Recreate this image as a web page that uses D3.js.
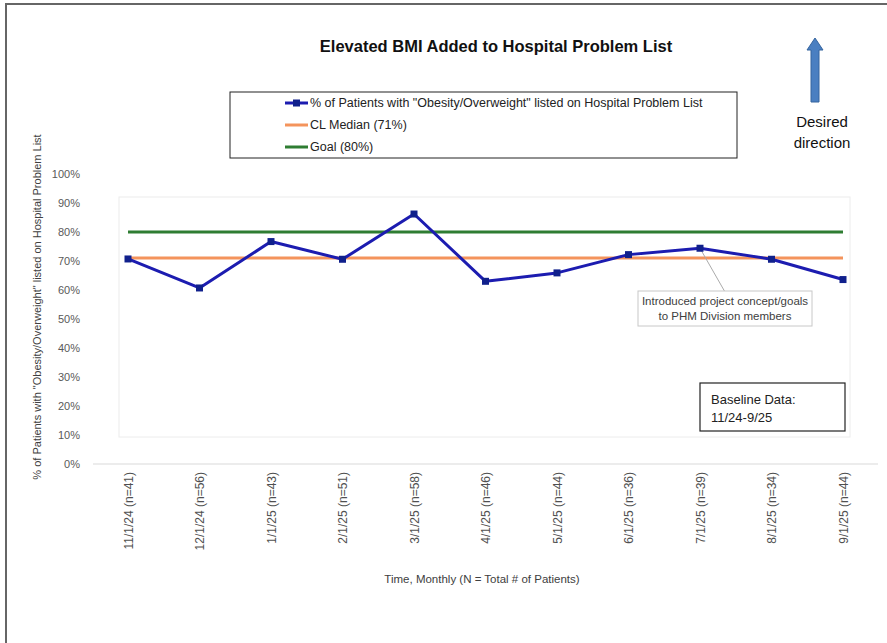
<!doctype html>
<html lang="en">
<head>
<meta charset="utf-8">
<title>Elevated BMI Added to Hospital Problem List</title>
<script src="https://d3js.org/d3.v7.min.js"></script>
<style>
  body { margin: 0; background: #fff; }
  text { font-family: "Liberation Sans", Arial, sans-serif; }
  .narrow { font-family: "Liberation Sans Narrow", "Liberation Sans", sans-serif; }
</style>
</head>
<body>
<div id="chart"></div>
<script>
// data
var months = ['11/1/24 (n=41)', '12/1/24 (n=56)', '1/1/25 (n=43)', '2/1/25 (n=51)', '3/1/25 (n=58)',
              '4/1/25 (n=46)', '5/1/25 (n=44)', '6/1/25 (n=36)', '7/1/25 (n=39)', '8/1/25 (n=34)', '9/1/25 (n=44)'];
var pct = [70.7, 60.7, 76.7, 70.6, 86.2, 63.0, 65.9, 72.2, 74.4, 70.6, 63.6];
var median = 71;
var goal = 80;
var yTicks = [0, 10, 20, 30, 40, 50, 60, 70, 80, 90, 100];
var legendLabels = ['% of Patients with "Obesity/Overweight" listed on Hospital Problem List', 'CL Median (71%)', 'Goal (80%)'];

var W = 887, H = 643;
var svg = d3.select('#chart').append('svg').attr('width', W).attr('height', H);

// outer frame (top + left edges only visible)
svg.append('path').attr('d', 'M6,' + H + 'V4H' + W)
  .attr('fill', 'none').attr('stroke', '#666').attr('stroke-width', 2);

var x = d3.scalePoint().domain(months).range([128, 843]);
var y = d3.scaleLinear().domain([0, 100]).range([464, 174]);

// plot area
svg.append('rect').attr('x', 119).attr('y', 197).attr('width', 731).attr('height', 240)
  .attr('fill', 'none').attr('stroke', '#ececec');

// title
svg.append('text').attr('x', 496).attr('y', 52).attr('text-anchor', 'middle')
  .attr('class', 'narrow').style('font-size', '16.5px').style('font-weight', 'bold').attr('fill', '#111')
  .text('Elevated BMI Added to Hospital Problem List');

// y axis
var yAxis = svg.append('g').attr('transform', 'translate(80,0)')
  .call(d3.axisLeft(y).tickValues(yTicks).tickSize(0).tickPadding(0).tickFormat(function(d) { return d + '%'; }));
yAxis.select('.domain').remove();
yAxis.selectAll('text').style('font-size', '11px').attr('fill', '#595959');

svg.append('text').attr('transform', 'translate(41,307)rotate(-90)').attr('text-anchor', 'middle')
  .style('font-size', '11px').attr('fill', '#404040')
  .text('% of Patients with "Obesity/Overweight" listed on Hospital Problem List');

// x axis
var xAxis = svg.append('g').attr('transform', 'translate(0,464)')
  .call(d3.axisBottom(x).tickSize(0).tickPadding(0));
xAxis.select('.domain').attr('d', 'M93,0H878').attr('stroke', '#d9d9d9');
xAxis.selectAll('text').attr('transform', 'translate(0,8)rotate(-90)').attr('text-anchor', 'end')
  .attr('dy', '0.35em').attr('y', 0).attr('x', 0)
  .style('font-size', '12px').attr('fill', '#505050');

svg.append('text').attr('x', 482).attr('y', 583).attr('text-anchor', 'middle')
  .style('font-size', '11.5px').attr('fill', '#404040')
  .text('Time, Monthly (N = Total # of Patients)');

// goal and median lines
svg.append('line').attr('x1', x(months[0])).attr('x2', x(months[months.length - 1]))
  .attr('y1', y(goal)).attr('y2', y(goal)).attr('stroke', '#2e7d32').attr('stroke-width', 3);
svg.append('line').attr('x1', x(months[0])).attr('x2', x(months[months.length - 1]))
  .attr('y1', y(median)).attr('y2', y(median)).attr('stroke', '#f4945c').attr('stroke-width', 3);

// annotation callout
var ann = 8;
svg.append('line').attr('x1', x(months[ann])).attr('y1', y(pct[ann]))
  .attr('x2', 725).attr('y2', 292).attr('stroke', '#aaa').attr('stroke-width', 1);
svg.append('rect').attr('x', 638).attr('y', 291).attr('width', 174).attr('height', 35)
  .attr('fill', '#fff').attr('stroke', '#c8c8c8');
svg.append('text').attr('x', 725).attr('y', 305).attr('text-anchor', 'middle')
  .style('font-size', '11.5px').attr('fill', '#404040').attr('class', 'narrow').text('Introduced project concept/goals');
svg.append('text').attr('x', 725).attr('y', 320).attr('text-anchor', 'middle')
  .style('font-size', '11.5px').attr('fill', '#404040').attr('class', 'narrow').text('to PHM Division members');

// main series
var line = d3.line().x(function(d, i) { return x(months[i]); }).y(function(d) { return y(d); });
svg.append('path').datum(pct).attr('d', line)
  .attr('fill', 'none').attr('stroke', '#1c1cb0').attr('stroke-width', 3).attr('stroke-linejoin', 'round');
svg.selectAll('.pt').data(pct).enter().append('rect').attr('class', 'pt')
  .attr('x', function(d, i) { return x(months[i]) - 3.5; })
  .attr('y', function(d) { return y(d) - 3.5; })
  .attr('width', 7).attr('height', 7).attr('fill', '#10208c');

// legend
svg.append('rect').attr('x', 230).attr('y', 92).attr('width', 507).attr('height', 66)
  .attr('fill', '#fff').attr('stroke', '#222').attr('stroke-width', 1);
var legColors = ['#1c1cb0', '#f4945c', '#2e7d32'];
legendLabels.forEach(function(lab, i) {
  var ly = 103 + i * 22;
  svg.append('line').attr('x1', 285).attr('x2', 308).attr('y1', ly).attr('y2', ly)
    .attr('stroke', legColors[i]).attr('stroke-width', 3);
  if (i === 0) {
    svg.append('rect').attr('x', 293).attr('y', ly - 3.5).attr('width', 7).attr('height', 7).attr('fill', '#10208c');
  }
  svg.append('text').attr('class', 'narrow').attr('x', 310).attr('y', ly + 4)
    .style('font-size', '12.5px').attr('fill', '#222').text(lab);
});

// desired direction arrow
svg.append('path').attr('d', 'M815,38 L823,50 L819,50 L819,102 L811,102 L811,50 L807,50 Z')
  .attr('fill', '#4a7fc1').attr('stroke', '#35649e').attr('stroke-width', 1);
svg.append('text').attr('x', 822).attr('y', 127).attr('text-anchor', 'middle')
  .style('font-size', '15px').attr('fill', '#111').text('Desired');
svg.append('text').attr('x', 822).attr('y', 148).attr('text-anchor', 'middle')
  .style('font-size', '15px').attr('fill', '#111').text('direction');

// baseline box
svg.append('rect').attr('x', 700).attr('y', 383).attr('width', 145).attr('height', 48)
  .attr('fill', '#fff').attr('stroke', '#222').attr('stroke-width', 1.2);
svg.append('text').attr('x', 711).attr('y', 404).style('font-size', '13px').attr('fill', '#222').text('Baseline Data:');
svg.append('text').attr('x', 711).attr('y', 422).style('font-size', '13px').attr('fill', '#222').text('11/24-9/25');
</script>
</body>
</html>
